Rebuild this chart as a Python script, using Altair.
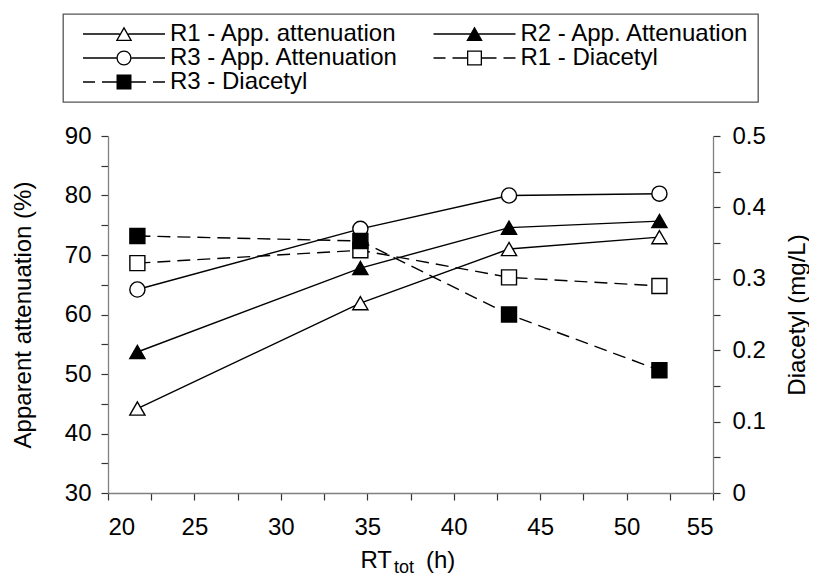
import altair as alt
import pandas as pd

# ---- data ----
rt_hours = [21.7, 34.6, 43.2, 51.9]
r1_attenuation = [44.2, 61.9, 71.0, 73.0]
r2_attenuation = [53.7, 67.8, 74.6, 75.7]
r3_attenuation = [64.2, 74.4, 80.0, 80.3]
r1_diacetyl = [0.322, 0.340, 0.302, 0.290]
r3_diacetyl = [0.360, 0.353, 0.250, 0.172]

att_series = ["R1 - App. attenuation", "R2 - App. Attenuation", "R3 - App. Attenuation"]
dia_series = ["R1 - Diacetyl", "R3 - Diacetyl"]
legend_order = ["R1 - App. attenuation", "R2 - App. Attenuation", "R3 - App. Attenuation",
                "R1 - Diacetyl", "R3 - Diacetyl"]

x_ticks = [20, 22.5, 25, 27.5, 30, 32.5, 35, 37.5, 40, 42.5, 45, 47.5, 50, 52.5, 55]
left_ticks = [30, 35, 40, 45, 50, 55, 60, 65, 70, 75, 80, 85, 90]
right_ticks = [0, 0.05, 0.1, 0.15, 0.2, 0.25, 0.3, 0.35, 0.4, 0.45, 0.5]

att_df = pd.DataFrame({
    "rt": rt_hours * 3,
    "value": r1_attenuation + r2_attenuation + r3_attenuation,
    "series": [s for s in att_series for _ in rt_hours],
})
dia_df = pd.DataFrame({
    "rt": rt_hours * 2,
    "value": r1_diacetyl + r3_diacetyl,
    "series": [s for s in dia_series for _ in rt_hours],
})
legend_df = pd.DataFrame({"series": legend_order})

FONT = "Liberation Sans"
W, H = 605, 357

# ---- legend glyphs (filled outlines; 1 unit = 5 px) ----
def rect(x0, x1):
    return f"M{x0},-0.14L{x1},-0.14L{x1},0.14L{x0},0.14Z"

tri_out = "M0,-1.5L1.65,1.4L-1.65,1.4Z"
tri_in = "M0,-0.974L-1.203,1.14L1.203,1.14Z"
circ_out = "M-1.5,0A1.5,1.5,0,1,1,1.5,0A1.5,1.5,0,1,1,-1.5,0Z"
circ_in = "M-1.24,0A1.24,1.24,0,1,0,1.24,0A1.24,1.24,0,1,0,-1.24,0Z"
sq_out = "M-1.5,-1.5L1.5,-1.5L1.5,1.5L-1.5,1.5Z"
sq_in = "M-1.24,-1.24L-1.24,1.24L1.24,1.24L1.24,-1.24Z"

open_tri = rect(-8.2, -0.85) + rect(0.85, 8.2) + tri_out + tri_in
full_tri = rect(-8.2, 8.2) + tri_out
open_circ = rect(-8.2, -1.5) + rect(1.5, 8.2) + circ_out + circ_in
dashes = rect(-8.2, -5.8) + rect(-4.4, -1.5) + rect(1.5, 4.4) + rect(5.8, 8.2)
open_sq = dashes + sq_out + sq_in
full_sq = dashes + sq_out
legend_paths = [open_tri, full_tri, open_circ, open_sq, full_sq]

x_enc = alt.X("rt:Q", scale=alt.Scale(domain=[20, 55], nice=False, zero=False),
              axis=alt.Axis(values=x_ticks, title=None, labelPadding=15, labelOverlap=False,
                            labelExpr="datum.value % 5 === 0 ? datum.label : ''"))

y_left = alt.Y("value:Q", scale=alt.Scale(domain=[30, 90], nice=False, zero=False),
               axis=alt.Axis(orient="left", values=left_ticks, labelPadding=10, labelOverlap=False,
                             labelExpr="datum.value % 10 === 0 ? datum.label : ''",
                             title="Apparent attenuation (%)", titleAngle=270,
                             titleX=-85, titleY=H / 2, titleAlign="center", titleBaseline="middle"))

y_right = alt.Y("value:Q", scale=alt.Scale(domain=[0, 0.5], nice=False, zero=False),
                axis=alt.Axis(orient="right", values=right_ticks, labelPadding=12, labelOverlap=False,
                              labelExpr="round(datum.value * 20) % 2 === 0 ? (datum.value === 0 ? '0' : format(datum.value, '.1f')) : ''",
                              title="Diacetyl (mg/L)", titleAngle=270,
                              titleX=84, titleY=H / 2, titleAlign="center", titleBaseline="middle"))

att_lines = alt.Chart(att_df).mark_line(color="black", strokeWidth=1.4).encode(
    x=x_enc, y=y_left, detail="series:N")
att_points = alt.Chart(att_df).mark_point(filled=True, stroke="black", strokeWidth=1.4, size=230, opacity=1).encode(
    x=x_enc, y=y_left,
    shape=alt.Shape("series:N", scale=alt.Scale(domain=att_series, range=["triangle-up", "triangle-up", "circle"]), legend=None),
    fill=alt.Fill("series:N", scale=alt.Scale(domain=att_series, range=["white", "black", "white"]), legend=None))
left = alt.layer(att_lines, att_points)

dia_lines = alt.Chart(dia_df).mark_line(color="black", strokeWidth=1.4, strokeDash=[13, 7]).encode(
    x=x_enc, y=y_right, detail="series:N")
dia_points = alt.Chart(dia_df).mark_point(filled=True, stroke="black", strokeWidth=1.4, size=225, opacity=1).encode(
    x=x_enc, y=y_right,
    shape=alt.Shape("series:N", scale=alt.Scale(domain=dia_series, range=["square", "square"]), legend=None),
    fill=alt.Fill("series:N", scale=alt.Scale(domain=dia_series, range=["white", "black"]), legend=None))
right = alt.layer(dia_lines, dia_points)

leg = alt.Legend(title=None, orient="none", direction="horizontal", legendX=-45, legendY=-122,
                 columns=2, columnPadding=21.5,
                 rowPadding=0, padding=8, symbolSize=100, symbolOffset=41, labelOffset=34, clipHeight=24,
                 labelFont=FONT, labelFontSize=24, labelColor="black", labelLimit=500,
                 strokeColor="#555555", symbolStrokeWidth=0, symbolFillColor="black",
                 symbolOpacity=1, gridAlign="each")
legend_layer = alt.Chart(legend_df).mark_point(filled=True, color="black", strokeWidth=0, size=100, opacity=0).encode(
    shape=alt.Shape("series:N", scale=alt.Scale(domain=legend_order, range=legend_paths), legend=leg))

one = pd.DataFrame({"k": [0]})
t_rt = alt.Chart(one).mark_text(text="RT", font=FONT, fontSize=24, align="right", baseline="alphabetic", color="black").encode(
    x=alt.value(284), y=alt.value(432))
t_sub = alt.Chart(one).mark_text(text="tot", font=FONT, fontSize=18, align="left", baseline="alphabetic", color="black").encode(
    x=alt.value(286), y=alt.value(437))
t_h = alt.Chart(one).mark_text(text="(h)", font=FONT, fontSize=24, align="left", baseline="alphabetic", color="black").encode(
    x=alt.value(318), y=alt.value(432))

chart = alt.layer(left, right, legend_layer, t_rt, t_sub, t_h).resolve_scale(
    y="independent", shape="independent", fill="independent"
).properties(
    width=W, height=H,
    autosize=alt.AutoSizeParams(type="none"),
    padding={"left": 100, "top": 128, "right": 96, "bottom": 84},
).configure_axis(
    labelFont=FONT, titleFont=FONT, labelFontSize=24, titleFontSize=24, titleFontWeight="normal",
    labelColor="black", titleColor="black", domainColor="#808080", domainWidth=1.3,
    tickColor="#333333", tickWidth=1.2, tickSize=7, grid=False,
).configure_legend(strokeWidth=1.3).configure_view(stroke=None)

chart.save("out.html", embed_options={"renderer": "svg", "actions": False})
